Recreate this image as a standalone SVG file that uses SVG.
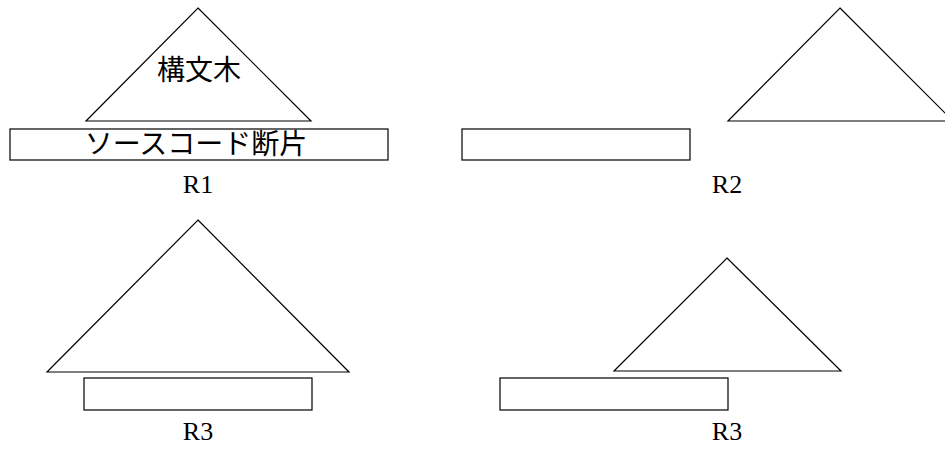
<svg xmlns="http://www.w3.org/2000/svg" width="945" height="450" viewBox="0 0 945 450">
<style>
.s{fill:none;stroke:#000;stroke-width:1.2}
.r{fill:#fff;stroke:#000;stroke-width:1.2}
.l{font-family:"Liberation Serif",serif;font-size:26px;text-anchor:middle;fill:#000}
.j{font-family:"Liberation Serif","Noto Sans CJK JP",serif;font-size:28px;text-anchor:middle;fill:#000}
</style>
<rect width="945" height="450" fill="#fff"/>
<g id="r1">
<polygon class="s" points="198,8 311,121 86,121"/>
<text class="j" x="199" y="80">構文木</text>
<rect class="r" x="10" y="129" width="378" height="31"/>
<text class="j" x="196" y="154">ソースコード断片</text>
<text class="l" x="198" y="193">R1</text>
</g>
<g id="r2">
<rect class="r" x="462" y="129" width="228" height="31"/>
<polygon class="s" points="840,8 953,121 728,121"/>
<text class="l" x="727" y="193">R2</text>
</g>
<g id="r3a">
<polygon class="s" points="198,220 349,372 47,372"/>
<rect class="r" x="84" y="378" width="228" height="32"/>
<text class="l" x="198" y="440">R3</text>
</g>
<g id="r3b">
<polygon class="s" points="727,258 841,371 614,371"/>
<rect class="r" x="500" y="378" width="228" height="32"/>
<text class="l" x="727" y="440">R3</text>
</g>
</svg>
